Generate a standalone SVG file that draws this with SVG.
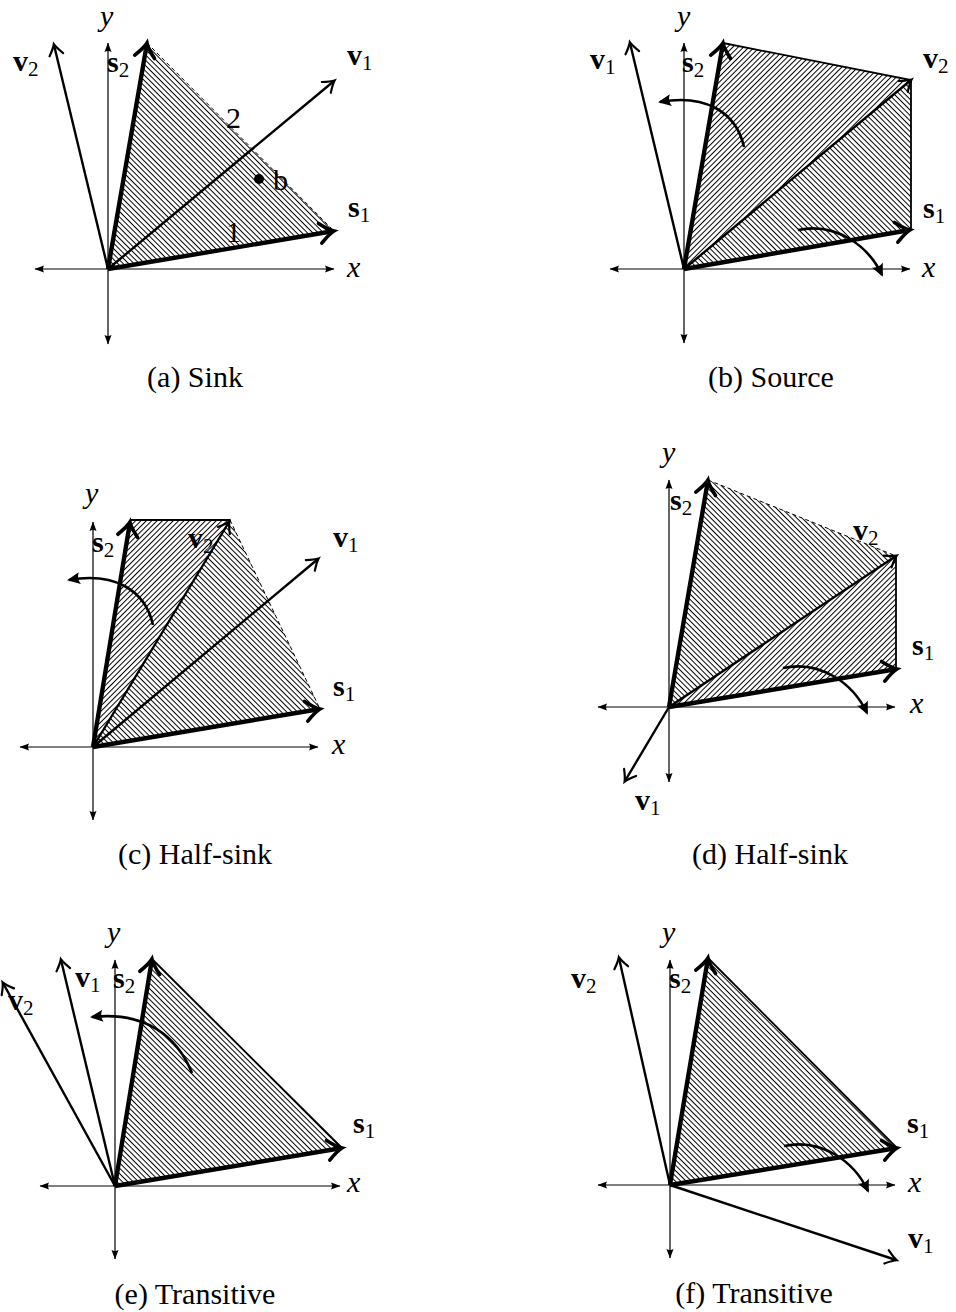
<svg xmlns="http://www.w3.org/2000/svg" width="956" height="1312" viewBox="0 0 956 1312">
<style>
.ax{stroke:#000;stroke-width:1.2;fill:none;marker-start:url(#ah);marker-end:url(#ah)}
.v{stroke:#000;stroke-width:2.4;fill:none;marker-end:url(#vh)}
.s{stroke:#000;stroke-width:4.4;fill:none;marker-end:url(#sh)}
.cv{stroke:#000;stroke-width:2.6;fill:none;marker-end:url(#ch)}
.dash{stroke:#000;stroke-width:1;stroke-dasharray:4 3;fill:none}
.edge{stroke:#000;stroke-width:1.8;fill:none}
.hnw{fill:url(#nw);stroke:none}
.hne{fill:url(#ne);stroke:none}
text{font-family:"Liberation Serif","Times New Roman",serif;font-size:30px;fill:#000}
.it{font-style:italic}
.bf{font-weight:bold}
.sub{font-size:21px;font-weight:normal}
.cap{text-anchor:middle}
</style>
<defs>
<pattern id="nw" patternUnits="userSpaceOnUse" width="8" height="3.8" patternTransform="rotate(45)"><rect x="0" y="0" width="8" height="1" fill="#000"/></pattern>
<pattern id="ne" patternUnits="userSpaceOnUse" width="8" height="3.8" patternTransform="rotate(-45)"><rect x="0" y="0" width="8" height="1" fill="#000"/></pattern>
<marker id="ah" markerUnits="userSpaceOnUse" markerWidth="12" markerHeight="10" refX="0" refY="0" orient="auto-start-reverse" style="overflow:visible"><path d="M0.5,0 L-9,-3.5 Q-7,0 -9,3.5 z" fill="#000"/></marker>
<marker id="vh" markerUnits="userSpaceOnUse" markerWidth="12" markerHeight="12" refX="0" refY="0" orient="auto" style="overflow:visible"><path d="M-10,-7 Q-3,-1.5 0.8,0 Q-3,1.5 -10,7" fill="none" stroke="#000" stroke-width="2.2" stroke-linecap="round"/></marker>
<marker id="sh" markerUnits="userSpaceOnUse" markerWidth="16" markerHeight="16" refX="0" refY="0" orient="auto" style="overflow:visible"><path d="M-11,-10 Q-2,-2 3,0 Q-2,2 -11,10" fill="none" stroke="#000" stroke-width="3.6" stroke-linecap="round"/></marker>
<marker id="ch" markerUnits="userSpaceOnUse" markerWidth="14" markerHeight="12" refX="0" refY="0" orient="auto" style="overflow:visible"><path d="M2,0 L-11,-6 Q-7.5,0 -11,6 z" fill="#000"/></marker>
</defs>

<!-- (a) Sink -->
<g id="panel-a">
  <g id="a-region">
    <polygon class="hnw" points="108,269 147,43 334,231"/>
    <line class="dash" x1="147" y1="43" x2="334" y2="231"/>
  </g>
  <g id="a-connectors">
    <line class="ax" x1="35" y1="269" x2="334" y2="269"/>
    <line class="ax" x1="108" y1="43" x2="108" y2="344"/>
    <line class="v" x1="108" y1="269" x2="54" y2="45"/>
    <line class="v" x1="108" y1="269" x2="334" y2="81"/>
    <line class="s" x1="108" y1="269" x2="146.5" y2="46"/>
    <line class="s" x1="108" y1="269" x2="331" y2="231.5"/>
  </g>
  <g id="a-b"><circle cx="259" cy="179" r="5" fill="#000"/></g>
  <g id="a-labels">
    <text class="it" x="100" y="26">y</text>
    <text class="bf" x="13" y="71">v<tspan class="sub" dy="5">2</tspan></text>
    <text class="bf" x="107" y="72">s<tspan class="sub" dy="5">2</tspan></text>
    <text class="bf" x="347" y="65">v<tspan class="sub" dy="5">1</tspan></text>
    <text x="226" y="128">2</text>
    <text x="226" y="242">1</text>
    <text x="273" y="190">b</text>
    <text class="bf" x="348" y="217">s<tspan class="sub" dy="5">1</tspan></text>
    <text class="it" x="347" y="277">x</text>
    <text class="cap" x="195" y="387">(a) Sink</text>
  </g>
</g>

<!-- (b) Source -->
<g id="panel-b">
  <g id="b-region">
    <polygon class="hne" points="684,269 723,43 911,80"/>
    <polygon class="hnw" points="684,269 911,80 911,230"/>
    <polyline class="edge" points="723,43 911,80 911,230"/>
  </g>
  <g id="b-connectors">
    <line class="ax" x1="610" y1="269" x2="910" y2="269"/>
    <line class="ax" x1="684" y1="43" x2="684" y2="343"/>
    <line class="v" x1="684" y1="269" x2="630" y2="43"/>
    <line class="v" x1="684" y1="269" x2="911" y2="80"/>
    <line class="s" x1="684" y1="269" x2="722.5" y2="46"/>
    <line class="s" x1="684" y1="269" x2="907" y2="230.5"/>
    <path class="cv" transform="translate(684,269)" d="M60,-122 C52,-158 20,-175 -24,-167"/>
    <path class="cv" transform="translate(684,269)" d="M114,-39 C151,-47 184,-24 198,6"/>
  </g>
  <g id="b-labels">
    <text class="it" x="677" y="26">y</text>
    <text class="bf" x="590" y="69">v<tspan class="sub" dy="5">1</tspan></text>
    <text class="bf" x="682" y="72">s<tspan class="sub" dy="5">2</tspan></text>
    <text class="bf" x="923" y="68">v<tspan class="sub" dy="5">2</tspan></text>
    <text class="bf" x="923" y="218">s<tspan class="sub" dy="5">1</tspan></text>
    <text class="it" x="922" y="277">x</text>
    <text class="cap" x="771" y="387">(b) Source</text>
  </g>
</g>

<!-- (c) Half-sink -->
<g id="panel-c">
  <g id="c-region">
    <polygon class="hne" points="93,747 131,520 230,520"/>
    <polygon class="hnw" points="93,747 230,520 320,709"/>
    <line class="edge" x1="131" y1="520" x2="230" y2="520"/>
    <line class="dash" x1="230" y1="520" x2="320" y2="709"/>
  </g>
  <g id="c-connectors">
    <line class="ax" x1="20" y1="747" x2="318" y2="747"/>
    <line class="ax" x1="93" y1="522" x2="93" y2="820"/>
    <line class="v" x1="93" y1="747" x2="229" y2="522"/>
    <line class="v" x1="93" y1="747" x2="318" y2="559"/>
    <line class="s" x1="93" y1="747" x2="129.5" y2="525"/>
    <line class="s" x1="93" y1="747" x2="317" y2="709.5"/>
    <path class="cv" transform="translate(93,747)" d="M60,-122 C52,-158 20,-175 -24,-167"/>
  </g>
  <g id="c-labels">
    <text class="it" x="85" y="503">y</text>
    <text class="bf" x="92" y="552">s<tspan class="sub" dy="5">2</tspan></text>
    <text class="bf" x="188" y="548">v<tspan class="sub" dy="5">2</tspan></text>
    <text class="bf" x="333" y="547">v<tspan class="sub" dy="5">1</tspan></text>
    <text class="bf" x="333" y="696">s<tspan class="sub" dy="5">1</tspan></text>
    <text class="it" x="332" y="754">x</text>
    <text class="cap" x="195" y="864">(c) Half-sink</text>
  </g>
</g>

<!-- (d) Half-sink -->
<g id="panel-d">
  <g id="d-region">
    <polygon class="hnw" points="669,707 708,480 896,556"/>
    <polygon class="hne" points="669,707 896,556 896,669"/>
    <line class="dash" x1="708" y1="480" x2="896" y2="556"/>
    <line class="edge" x1="896" y1="556" x2="896" y2="669"/>
  </g>
  <g id="d-connectors">
    <line class="ax" x1="598" y1="707" x2="895" y2="707"/>
    <line class="ax" x1="669" y1="480" x2="669" y2="782"/>
    <line class="v" x1="669" y1="707" x2="896" y2="556"/>
    <line class="v" x1="669" y1="707" x2="625" y2="781"/>
    <line class="s" x1="669" y1="707" x2="707.5" y2="483"/>
    <line class="s" x1="669" y1="707" x2="894" y2="669.5"/>
    <path class="cv" transform="translate(669,707)" d="M114,-39 C151,-47 184,-24 198,6"/>
  </g>
  <g id="d-labels">
    <text class="it" x="662" y="462">y</text>
    <text class="bf" x="670" y="510">s<tspan class="sub" dy="5">2</tspan></text>
    <text class="bf" x="853" y="540">v<tspan class="sub" dy="5">2</tspan></text>
    <text class="bf" x="912" y="655">s<tspan class="sub" dy="5">1</tspan></text>
    <text class="it" x="910" y="713">x</text>
    <text class="bf" x="635" y="810">v<tspan class="sub" dy="5">1</tspan></text>
    <text class="cap" x="770" y="864">(d) Half-sink</text>
  </g>
</g>

<!-- (e) Transitive -->
<g id="panel-e">
  <g id="e-region">
    <polygon class="hnw" points="115,1186 152,959 342,1148"/>
    <line class="edge" x1="152" y1="959" x2="342" y2="1148"/>
  </g>
  <g id="e-connectors">
    <line class="ax" x1="40" y1="1186" x2="340" y2="1186"/>
    <line class="ax" x1="115" y1="960" x2="115" y2="1259"/>
    <line class="v" x1="115" y1="1186" x2="61" y2="960"/>
    <line class="v" x1="115" y1="1186" x2="3" y2="983"/>
    <line class="s" x1="115" y1="1186" x2="151.5" y2="962"/>
    <line class="s" x1="115" y1="1186" x2="339" y2="1148.5"/>
    <path class="cv" transform="translate(115,1186)" d="M77,-113 C62,-150 30,-175 -23,-169"/>
  </g>
  <g id="e-labels">
    <text class="it" x="107" y="942">y</text>
    <text class="bf" x="75" y="987">v<tspan class="sub" dy="5">1</tspan></text>
    <text class="bf" x="113" y="988">s<tspan class="sub" dy="5">2</tspan></text>
    <text class="bf" x="8" y="1010">v<tspan class="sub" dy="5">2</tspan></text>
    <text class="bf" x="353" y="1133">s<tspan class="sub" dy="5">1</tspan></text>
    <text class="it" x="347" y="1192">x</text>
    <text class="cap" x="195" y="1304">(e) Transitive</text>
  </g>
</g>

<!-- (f) Transitive -->
<g id="panel-f">
  <g id="f-region">
    <polygon class="hnw" points="670,1185 708,958 897,1148"/>
    <line class="edge" x1="708" y1="958" x2="897" y2="1148"/>
  </g>
  <g id="f-connectors">
    <line class="ax" x1="598" y1="1185" x2="895" y2="1185"/>
    <line class="ax" x1="670" y1="960" x2="670" y2="1258"/>
    <line class="v" x1="670" y1="1185" x2="619" y2="958"/>
    <line class="v" x1="670" y1="1185" x2="896" y2="1260"/>
    <line class="s" x1="670" y1="1185" x2="707.5" y2="961"/>
    <line class="s" x1="670" y1="1185" x2="894" y2="1148.5"/>
    <path class="cv" transform="translate(670,1185)" d="M114,-39 C151,-47 184,-24 198,6"/>
  </g>
  <g id="f-labels">
    <text class="it" x="662" y="942">y</text>
    <text class="bf" x="571" y="988">v<tspan class="sub" dy="5">2</tspan></text>
    <text class="bf" x="669" y="988">s<tspan class="sub" dy="5">2</tspan></text>
    <text class="bf" x="907" y="1133">s<tspan class="sub" dy="5">1</tspan></text>
    <text class="it" x="908" y="1192">x</text>
    <text class="bf" x="908" y="1248">v<tspan class="sub" dy="5">1</tspan></text>
    <text class="cap" x="754" y="1303">(f) Transitive</text>
  </g>
</g>
</svg>
